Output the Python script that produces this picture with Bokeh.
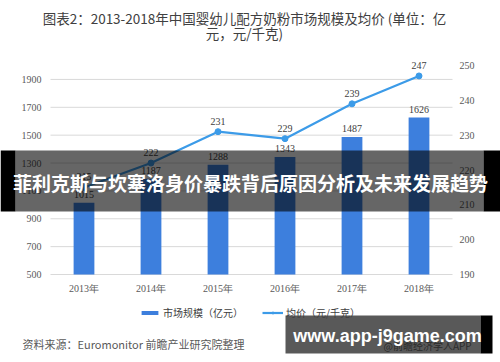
import numpy as np
from bokeh.plotting import figure
from bokeh.models import (Range1d, ColumnDataSource, LabelSet, Label, BoxAnnotation,
                          Legend, LegendItem)
from bokeh.embed import file_html
from bokeh.resources import INLINE

years = ["2013年", "2014年", "2015年", "2016年", "2017年", "2018年"]
market_size = [1015, 1187, 1288, 1343, 1487, 1626]
avg_price = [215, 222, 231, 229, 239, 247]
left_ticks = [500, 700, 900, 1100, 1300, 1500, 1700, 1900]
right_ticks = [190, 200, 210, 220, 230, 240, 250]
left_lim = (500, 2000)
right_lim = (190, 250)

FONT = "Noto Sans CJK SC"
BAR = "#3D7FDD"
LINE = "#3C9BE8"
TXT = "#404040"
TICK = "#595959"

W, H = 500, 362
OFF = 0
# plot area in canvas pixels (from top-left)
PL, PR, PT, PB = 50, 452, 65, 274
n = len(years)
step = (PR - PL) / n
x_start = -0.5 - PL / step
x_end = x_start + W / step

def yr(lo, hi):
    k = (hi - lo) / (PB - PT)
    return Range1d(lo - (H - PB) * k, hi + PT * k)

xs = np.arange(n)
src = ColumnDataSource(dict(x=xs, year=years, size=market_size, price=avg_price,
                            size_txt=[str(v) for v in market_size],
                            price_txt=[str(v) for v in avg_price]))

p = figure(width=W, height=H, x_range=Range1d(x_start, x_end), y_range=yr(*left_lim),
           output_backend="svg", toolbar_location=None, min_border=0,
           x_axis_location=None, y_axis_location=None,
           outline_line_color=None, background_fill_color="white", border_fill_color="white")
p.extra_y_ranges = {"price": yr(*right_lim)}
p.xgrid.visible = False
p.ygrid.visible = False

# gridlines across the category span
p.segment(x0=-0.5, x1=n - 0.5, y0=left_ticks, y1=left_ticks, line_color="#D9D9D9", line_width=1)

bars = p.vbar(x="x", top="size", bottom=left_lim[0], width=0.31, source=src,
              fill_color=BAR, line_color=None)
ln = p.line(x="x", y="price", source=src, y_range_name="price", line_color=LINE, line_width=2.2)
pts = p.scatter(x="x", y="price", source=src, y_range_name="price", size=6,
                fill_color=LINE, line_color=LINE)

def sx(X):
    return X - OFF

def sy(Y):
    return H - (Y - OFF)

# axis tick labels
lt = ColumnDataSource(dict(y=left_ticks, t=[str(v) for v in left_ticks]))
rt = ColumnDataSource(dict(y=right_ticks, t=[str(v) for v in right_ticks]))
p.add_layout(LabelSet(x=sx(41), x_units="screen", y="y", text="t", source=lt,
                      text_align="right", text_baseline="middle", text_font=FONT,
                      text_font_size="10px", text_color=TICK))
p.add_layout(LabelSet(x=sx(459), x_units="screen", y="y", text="t", source=rt,
                      y_range_name="price", text_align="left", text_baseline="middle",
                      text_font=FONT, text_font_size="10px", text_color=TICK))
p.add_layout(LabelSet(x="x", y=sy(288), y_units="screen", text="year", source=src,
                      text_align="center", text_baseline="middle", text_font=FONT,
                      text_font_size="10px", text_color=TICK))

# data labels
p.add_layout(LabelSet(x="x", y="size", text="size_txt", source=src, y_offset=5,
                      text_align="center", text_baseline="bottom", text_font=FONT,
                      text_font_size="10px", text_color=TXT))
p.add_layout(LabelSet(x="x", y="price", text="price_txt", source=src, y_range_name="price",
                      y_offset=7, text_align="center", text_baseline="bottom", text_font=FONT,
                      text_font_size="10px", text_color=TXT))

# legend
legend = Legend(items=[LegendItem(label="市场规模（亿元）", renderers=[bars]),
                       LegendItem(label="均价（元/千克）", renderers=[ln, pts])],
                orientation="horizontal", location=(sx(139), sy(320)), padding=0, margin=0,
                spacing=19, glyph_width=21, glyph_height=5, label_height=12,
                label_standoff=3, border_line_color=None, background_fill_alpha=0,
                label_text_font=FONT, label_text_font_size="10px", label_text_color=TXT)
p.add_layout(legend)

def lab(text, X, Y, size, color=TXT, align="left", style="normal", font=FONT):
    p.add_layout(Label(text=text, x=sx(X), y=sy(Y), x_units="screen", y_units="screen",
                       text_font=font, text_font_size=size, text_color=color,
                       text_align=align, text_baseline="middle", text_font_style=style,
                       level="overlay"))

def box(l, r, t, b, color, alpha):
    p.add_layout(BoxAnnotation(left=sx(l), right=sx(r), top=sy(t), bottom=sy(b),
                               left_units="screen", right_units="screen",
                               top_units="screen", bottom_units="screen",
                               fill_color=color, fill_alpha=alpha, line_color=None,
                               level="overlay"))

# title
lab("图表2：2013-2018年中国婴幼儿配方奶粉市场规模及均价 (单位：亿", 244, 17, "13.5px", align="center")
lab("元，元/千克)", 244, 32, "13.5px", align="center")

# source
lab("资料来源：Euromonitor 前瞻产业研究院整理", 22, 343, "11px", color=TICK)
lab("@前瞻经济学人APP", 383, 345, "10px", color="#808080")

# banner overlay
box(0, 15, 150, 211, "black", 1.0)
box(15, 483, 150, 211, "black", 0.6)
box(483, 500, 150, 211, "black", 1.0)
lab("菲利克斯与坎塞洛身价暴跌背后原因分析及未来发展趋势", 250, 182, "19px", color="white",
    align="center", style="bold")

# bottom-right overlay
box(285, 480, 315, 353, "black", 0.65)
box(480, 492, 315, 353, "black", 1.0)
lab("www.app-j9game.com", 387, 335, "18px", color="white", align="center", style="bold",
    font="Liberation Sans")

open("out.html", "w").write(file_html(p, INLINE))
